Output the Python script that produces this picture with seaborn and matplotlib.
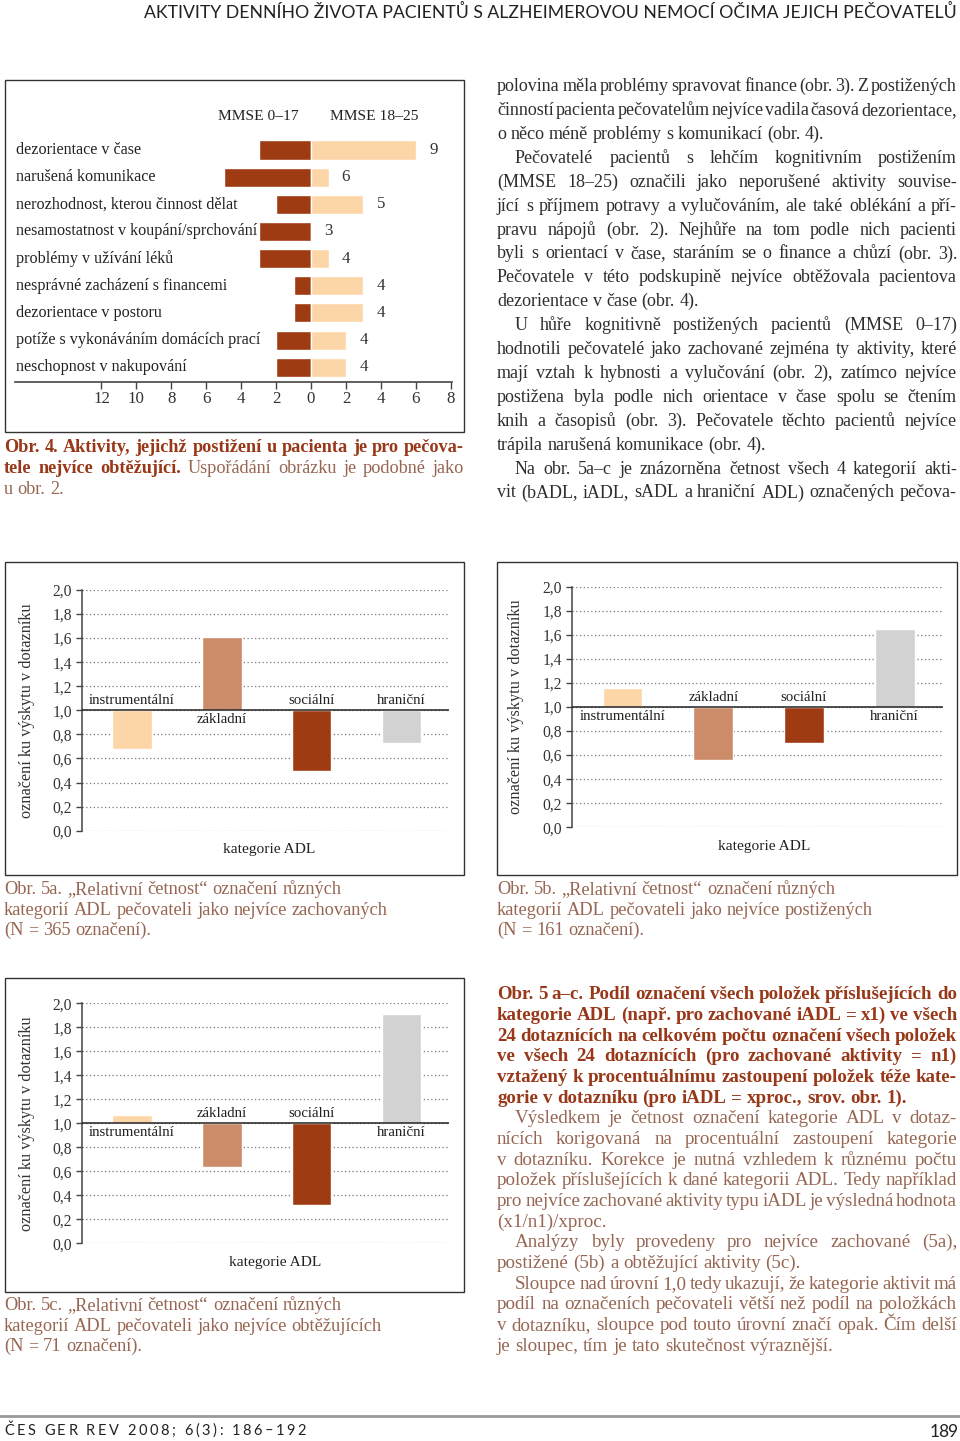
import numpy as np
import pandas as pd
import matplotlib
matplotlib.use("Agg")
import matplotlib.pyplot as plt
import seaborn as sns
from matplotlib.font_manager import FontProperties
from matplotlib.patches import Rectangle
from matplotlib.lines import Line2D
from matplotlib.ticker import FuncFormatter

# ---------------- data ----------------
burden_activities = [
    "dezorientace v čase",
    "narušená komunikace",
    "nerozhodnost, kterou činnost dělat",
    "nesamostatnost v koupání/sprchování",
    "problémy v užívání léků",
    "nesprávné zacházení s financemi",
    "dezorientace v postoru",
    "potíže s vykonáváním domácích prací",
    "neschopnost v nakupování",
]
burden_mmse_0_17 = [3, 5, 2, 3, 3, 1, 1, 2, 2]
burden_mmse_18_25 = [6, 1, 3, 0, 1, 3, 3, 2, 2]
burden_ticks = [-12, -10, -8, -6, -4, -2, 0, 2, 4, 6, 8]
burden_tick_labels = ["12", "10", "8", "6", "4", "2", "0", "2", "4", "6", "8"]

adl_categories = ["instrumentální", "základní", "sociální", "hraniční"]
adl_preserved = [0.68, 1.61, 0.50, 0.73]
adl_impaired = [1.16, 0.56, 0.70, 1.65]
adl_burdensome = [1.07, 0.64, 0.32, 1.91]
adl_ticks = [0.0, 0.2, 0.4, 0.6, 0.8, 1.0, 1.2, 1.4, 1.6, 1.8, 2.0]

# ---------------- style ----------------
DARK = "#9E3B12"
PEACH = "#FDD6A7"
TAN = "#CC8B69"
GRAY = "#D2D2D2"
ADL_COLORS = [PEACH, TAN, DARK, GRAY]
TXT = "#2e2e2e"
CAP_B = "#983818"
CAP_R = "#976652"

sns.set_theme(style="ticks")
SERIF = ["Liberation Serif", "DejaVu Serif"]
SANS = ["Lato", "DejaVu Sans"]
plt.rcParams["font.family"] = SERIF

W, H = 960, 1441
fig = plt.figure(figsize=(9.6, 14.41), dpi=100)
fig.patch.set_facecolor("white")
renderer = fig.canvas.get_renderer()


def fx(x):
    return x / W


def fy(y):
    return 1 - y / H


def text_w(s, size, weight="normal", family=SERIF):
    fp = FontProperties(family=family, size=size, weight=weight)
    w, h, d = renderer.get_text_width_height_descent(s, fp, ismath=False)
    return w


def fit(s, target, weight="normal", family=SERIF):
    return 12 * target / text_w(s, 12, weight, family)


def space_w(size, weight="normal"):
    return text_w("n n", size, weight) - text_w("nn", size, weight)


def natural_w(ln, size, weight):
    words = ln.split(" ")
    return sum(text_w(w, size, weight) for w in words) + (len(words) - 1) * space_w(size, weight)


def block_size(lines, x0, x1, weight="normal", boost=1.04):
    size = 12.0
    for _ in range(3):
        ratios = [(x1 - x0 - ind) / natural_w(ln, size, weight)
                  for ln, just, ind in lines if just]
        size = size * min(ratios)
    return size * boost


def toks(text, weight, color):
    return [(w, weight, color) for w in text.split(" ")]


def draw_line(tokens, x0, x1, yc, size, justify=True):
    em = size * 100 / 72
    base = yc + 0.23 * em
    widths = [text_w(w, size, wt) for w, wt, c in tokens]
    space = space_w(size)
    if justify and len(tokens) > 1:
        gap = (x1 - x0 - sum(widths)) / (len(tokens) - 1)
        gap = max(gap, 0.4 * space)
    else:
        gap = space
    x = x0
    for (w, wt, c), wd in zip(tokens, widths):
        fig.text(fx(x), fy(base), w, ha="left", va="baseline", fontsize=size,
                 fontweight=wt, color=c, family=SERIF)
        x += wd + gap


def tracked(s, x0, x1, yc, size, family, color):
    widths = [text_w(ch, size, family=family) if ch != " " else
              text_w("n n", size, family=family) - text_w("nn", size, family=family)
              for ch in s]
    extra = (x1 - x0 - sum(widths)) / (len(s) - 1)
    x = x0
    for ch, wd in zip(s, widths):
        if ch != " ":
            fig.text(fx(x), fy(yc), ch, ha="left", va="center", fontsize=size,
                     family=family, color=color)
        x += wd + extra


def frame(x0, y0, x1, y1):
    fig.add_artist(Rectangle((fx(x0), fy(y1)), (x1 - x0) / W, (y1 - y0) / H,
                             transform=fig.transFigure, fill=False,
                             ec="#333333", lw=1.0))


# ---------------- texts ----------------
body = [
    ("polovina měla problémy spravovat finance (obr. 3). Z postižených", True, 0),
    ("činností pacienta pečovatelům nejvíce vadila časová dezorientace,", True, 0),
    ("o něco méně problémy s komunikací (obr. 4).", False, 0),
    ("Pečovatelé pacientů s lehčím kognitivním postižením", True, 18),
    ("(MMSE 18–25) označili jako neporušené aktivity souvise-", True, 0),
    ("jící s příjmem potravy a vylučováním, ale také oblékání a pří-", True, 0),
    ("pravu nápojů (obr. 2). Nejhůře na tom podle nich pacienti", True, 0),
    ("byli s orientací v čase, staráním se o finance a chůzí (obr. 3).", True, 0),
    ("Pečovatele v této podskupině nejvíce obtěžovala pacientova", True, 0),
    ("dezorientace v čase (obr. 4).", False, 0),
    ("U hůře kognitivně postižených pacientů (MMSE 0–17)", True, 18),
    ("hodnotili pečovatelé jako zachované zejména ty aktivity, které", True, 0),
    ("mají vztah k hybnosti a vylučování (obr. 2), zatímco nejvíce", True, 0),
    ("postižena byla podle nich orientace v čase spolu se čtením", True, 0),
    ("knih a časopisů (obr. 3). Pečovatele těchto pacientů nejvíce", True, 0),
    ("trápila narušená komunikace (obr. 4).", False, 0),
    ("Na obr. 5a–c je znázorněna četnost všech 4 kategorií akti-", True, 18),
    ("vit (bADL, iADL, sADL a hraniční ADL) označených pečova-", True, 0),
]
cap_bold = [
    ("Obr. 5 a–c. Podíl označení všech položek příslušejících do", True, 0),
    ("kategorie ADL (např. pro zachované iADL = x1) ve všech", True, 0),
    ("24 dotaznících na celkovém počtu označení všech položek", True, 0),
    ("ve všech 24 dotaznících (pro zachované aktivity = n1)", True, 0),
    ("vztažený k procentuálnímu zastoupení položek téže kate-", True, 0),
    ("gorie v dotazníku (pro iADL = xproc., srov. obr. 1).", False, 0),
]
cap_reg = [
    ("Výsledkem je četnost označení kategorie ADL v dotaz-", True, 18),
    ("nících korigovaná na procentuální zastoupení kategorie", True, 0),
    ("v dotazníku. Korekce je nutná vzhledem k různému počtu", True, 0),
    ("položek příslušejících k dané kategorii ADL. Tedy například", True, 0),
    ("pro nejvíce zachované aktivity typu iADL je výsledná hodnota", True, 0),
    ("(x1/n1)/xproc.", False, 0),
    ("Analýzy byly provedeny pro nejvíce zachované (5a),", True, 18),
    ("postižené (5b) a obtěžující aktivity (5c).", False, 0),
    ("Sloupce nad úrovní 1,0 tedy ukazují, že kategorie aktivit má", True, 18),
    ("podíl na označeních pečovateli větší než podíl na položkách", True, 0),
    ("v dotazníku, sloupce pod touto úrovní značí opak. Čím delší", True, 0),
    ("je sloupec, tím je tato skutečnost výraznější.", False, 0),
]

# ---------------- font sizes ----------------
body_size = block_size(body, 497, 957)
capB_size = block_size(cap_bold, 497, 957, "bold", boost=1.01)
capR_size = block_size(cap_reg, 497, 957)
capL_size = fit("kategorií ADL pečovateli jako nejvíce zachovaných", 379)
cap4B_size = fit("Obr. 4. Aktivity, jejichž postižení u pacienta je pro pečova-", 452, "bold")
lab4 = fit("nesamostatnost v koupání/sprchování", 241)
mmse_size = fit("MMSE 18–25", 88)
cat5 = fit("instrumentální", 86)
ylab5 = fit("označení ku výskytu v dotazníku", 214)
xlab5 = fit("kategorie ADL", 92)
head_size = fit("AKTIVITY DENNÍHO ŽIVOTA PACIENTŮ S ALZHEIMEROVOU NEMOCÍ OČIMA JEJICH PEČOVATELŮ",
                807, family=SANS)

# ---------------- header / footer ----------------
fig.text(fx(957), fy(12), "AKTIVITY DENNÍHO ŽIVOTA PACIENTŮ S ALZHEIMEROVOU NEMOCÍ OČIMA JEJICH PEČOVATELŮ",
         ha="right", va="center", fontsize=head_size, family=SANS, color="#222222")
fig.add_artist(Line2D([0, 1], [fy(1416), fy(1416)], transform=fig.transFigure,
                      color="#999999", lw=2))
tracked("ČES GER REV 2008; 6(3): 186–192", 4, 306, 1431, 10.5, SANS, "#222222")
tracked("189", 930, 957, 1432, 12.5, SANS, "#222222")

# ---------------- Obr. 4 ----------------
frame(5, 80, 464, 432)
ax4 = fig.add_axes([fx(15), fy(382.3), (452 - 15) / W, (382.3 - 133.7) / H])
df4 = pd.DataFrame({
    "activity": burden_activities,
    "left": -np.array(burden_mmse_0_17),
    "right": np.array(burden_mmse_18_25),
})
sns.barplot(data=df4, x="left", y="activity", orient="h", color=DARK, width=0.7,
            saturation=1, errorbar=None, ax=ax4)
sns.barplot(data=df4, x="right", y="activity", orient="h", color=PEACH, width=0.7,
            saturation=1, errorbar=None, ax=ax4)
ax4.set_xlim(-16.95, 8.07)
ax4.set_ylim(8.552, -0.6)
ax4.set_yticks([])
ax4.set_ylabel("")
ax4.set_xlabel("")
for s in ["top", "right", "left"]:
    ax4.spines[s].set_visible(False)
ax4.spines["bottom"].set_color("#444444")
ax4.spines["bottom"].set_linewidth(1.2)
ax4.set_xticks(burden_ticks)
ax4.set_xticklabels(burden_tick_labels)
ax4.tick_params(axis="x", direction="out", length=5, width=1, color="#444444",
                labelsize=lab4 * 1.05, labelcolor="#333333", pad=1)
ax4.patch.set_alpha(0)
for i, (name, l, r) in enumerate(zip(burden_activities, burden_mmse_0_17, burden_mmse_18_25)):
    ax4.text(-16.9, i, name, ha="left", va="center", fontsize=lab4, color="#222222")
    ax4.text(r + 1.0, i, str(l + r), ha="center", va="center", fontsize=lab4 * 1.05, color="#333333")
fig.text(fx(258), fy(117), "MMSE 0–17", ha="center", va="center", fontsize=mmse_size, color="#222222")
fig.text(fx(374), fy(117), "MMSE 18–25", ha="center", va="center", fontsize=mmse_size, color="#222222")

# caption Obr. 4
draw_line(toks("Obr. 4. Aktivity, jejichž postižení u pacienta je pro pečova-", "bold", CAP_B),
          4, 464, 448, cap4B_size)
draw_line(toks("tele nejvíce obtěžující.", "bold", CAP_B) +
          toks("Uspořádání obrázku je podobné jako", "normal", CAP_R),
          4, 464, 469, cap4B_size)
draw_line(toks("u obr. 2.", "normal", CAP_R), 4, 464, 490, cap4B_size, justify=False)


# ---------------- Obr. 5 a–c ----------------
def adl_chart(values, left, top, right, bottom, box, xlab_xy, ylab_x=35):
    frame(*box)
    ax = fig.add_axes([fx(left), fy(bottom), (right - left) / W, (bottom - top) / H])
    df = pd.DataFrame({"cat": adl_categories, "dev": np.array(values) - 1.0})
    sns.barplot(data=df, x="cat", y="dev", hue="cat", palette=ADL_COLORS, width=0.44,
                saturation=1, legend=False, errorbar=None, ax=ax, zorder=3)
    ax.set_xlim(-0.56, 3.53)
    ax.set_ylim(-1.0, 1.0)
    ax.set_yticks(np.array(adl_ticks) - 1.0)
    ax.yaxis.set_major_formatter(FuncFormatter(lambda v, p: f"{v + 1:.1f}".replace(".", ",")))
    ax.set_xticks([])
    ax.yaxis.grid(True, linestyle=(0, (1, 2)), color="#777777", lw=0.9)
    ax.xaxis.grid(False)
    ax.set_axisbelow(True)
    for s in ["top", "right", "bottom"]:
        ax.spines[s].set_visible(False)
    ax.spines["left"].set_color("#444444")
    ax.spines["left"].set_linewidth(1.1)
    ax.tick_params(axis="y", direction="out", length=4, width=1, color="#444444",
                   labelsize=cat5 * 1.05, labelcolor="#333333", pad=3)
    ax.axhline(0, color="#222222", lw=1.1, zorder=4)
    for i, (c, v) in enumerate(zip(adl_categories, values)):
        ax.text(i, 0.08 if v < 1 else -0.08, c, ha="center", va="center",
                fontsize=cat5, color="#222222", zorder=5)
    ax.set_ylabel("označení ku výskytu v dotazníku", fontsize=ylab5, color="#333333")
    ax.yaxis.set_label_coords((ylab_x - left) / (right - left), 0.5)
    ax.set_xlabel("kategorie ADL", fontsize=xlab5, color="#222222")
    cx, ty = xlab_xy
    ax.xaxis.set_label_coords((cx - left) / (right - left), -(ty - bottom) / (bottom - top))
    ax.patch.set_alpha(0)
    return ax


adl_chart(adl_preserved, 81.7, 590, 449, 830.7, (5, 562, 464, 875), (268.7, 843))
adl_chart(adl_impaired, 571.7, 586.7, 942.7, 827.3, (497, 562, 957, 875), (764, 840), ylab_x=524)
adl_chart(adl_burdensome, 81.7, 1003.3, 449, 1243.3, (5, 978, 464, 1292), (275, 1256))

# captions 5a, 5b, 5c (ragged)
cap5 = {
    (4, 890): ["Obr. 5a. „Relativní četnost“ označení různých",
               "kategorií ADL pečovateli jako nejvíce zachovaných",
               "(N = 365 označení)."],
    (497, 890): ["Obr. 5b. „Relativní četnost“ označení různých",
                 "kategorií ADL pečovateli jako nejvíce postižených",
                 "(N = 161 označení)."],
    (4, 1306): ["Obr. 5c. „Relativní četnost“ označení různých",
                "kategorií ADL pečovateli jako nejvíce obtěžujících",
                "(N = 71 označení)."],
}
for (x0, y0), lines in cap5.items():
    for k, ln in enumerate(lines):
        draw_line(toks(ln, "normal", CAP_R), x0, x0 + 460, y0 + 20.5 * k, capL_size, justify=False)

# ---------------- right column body text ----------------
for k, (ln, just, ind) in enumerate(body):
    draw_line(toks(ln, "normal", TXT), 497 + ind, 957, 87 + 23.9 * k, body_size, justify=just)

for k, (ln, just, ind) in enumerate(cap_bold):
    draw_line(toks(ln, "bold", CAP_B), 497 + ind, 957, 995 + 20.66 * k, capB_size, justify=just)
for k, (ln, just, ind) in enumerate(cap_reg):
    draw_line(toks(ln, "normal", CAP_R), 497 + ind, 957, 995 + 20.66 * (k + 6), capR_size, justify=just)

fig.savefig("out.png", dpi=100, facecolor="white")
